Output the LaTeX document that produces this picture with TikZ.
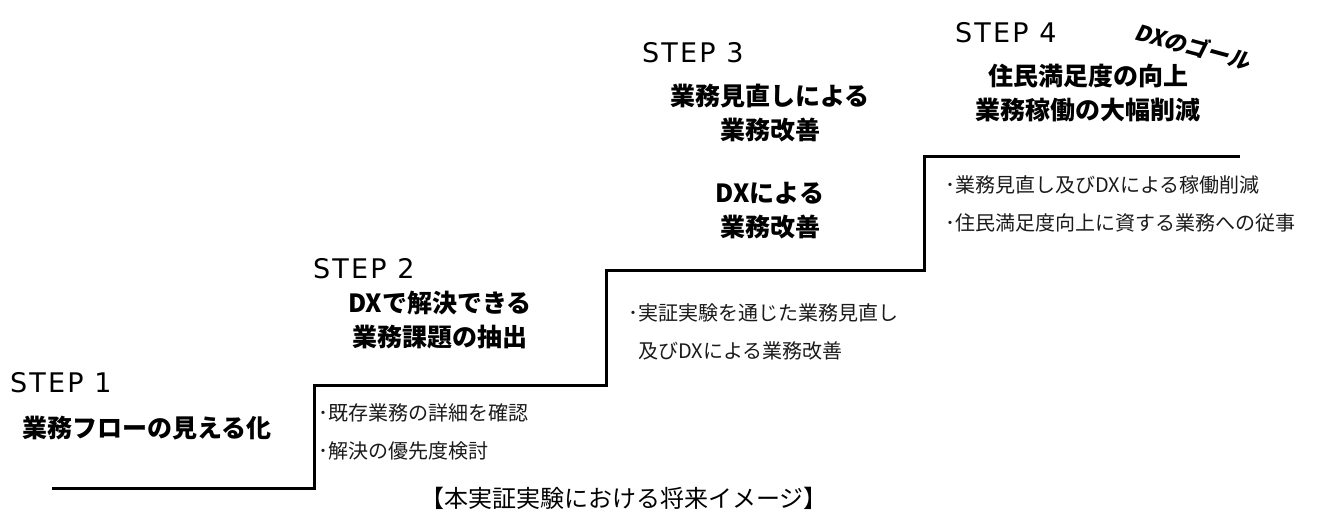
\documentclass[tikz,border=0pt]{standalone}
\usepackage{fontspec}
\usetikzlibrary{positioning}
\newfontfamily\jpfont{Noto Sans CJK JP}
\newfontfamily\jpbold{Noto Sans CJK JP Black}
\newfontfamily\goalfont{Noto Sans CJK JP Black}[FakeSlant=0.2]
\newfontfamily\stepfont{DejaVu Sans}[LetterSpace=8]
\definecolor{dxInk}{HTML}{000000}
\definecolor{dxText}{HTML}{1A1A1A}

\begin{document}
\begin{tikzpicture}[x=1pt, y=-1pt,
    steplabel/.style={anchor=base west, inner sep=0pt, text=dxInk, font=\stepfont\fontsize{27}{30}\selectfont},
    steptitle/.style={align=center, inner sep=0pt, text=dxInk, font=\jpbold\fontsize{25}{34}\selectfont},
    stepnote/.style={anchor=west, align=left, inner sep=0pt, text=dxText, font=\jpfont\fontsize{20}{38}\selectfont}]
  \useasboundingbox (0,0) rectangle (1317,520);
  % Treppe
  \draw[line width=3pt, color=dxInk] (52,488) -- (314,488) -- (314,385) -- (606,385)
    -- (606,270) -- (924,270) -- (924,156) -- (1240,156);
  % STEP-Beschriftungen
  \foreach \n/\x/\y in {1/10/392, 2/313/278, 3/642/62, 4/955/42} {
    \node[steplabel] (step\n) at (\x,\y) {STEP \n};
  }
  % Titel
  \node[steptitle] (title1) at (147,428) {業務フローの見える化};
  \node[steptitle] (title2) at (440,320) {DXで解決できる\\業務課題の抽出};
  \node[steptitle] (title3) at (770,113) {業務見直しによる\\業務改善};
  \node[steptitle] (title3b) at (770,211) {DXによる\\業務改善};
  \node[steptitle] (title4) at (1088,93) {住民満足度の向上\\業務稼働の大幅削減};
  \node[rotate=-15, inner sep=0pt, text=dxInk, font=\goalfont\fontsize{22}{26}\selectfont] (goal) at (1193,46) {DXのゴール};
  % Erlaeuterungen
  \node[stepnote] (note2) at (318,432) {･既存業務の詳細を確認\\･解決の優先度検討};
  \node[stepnote] (note3) at (628,332) {･実証実験を通じた業務見直し\\\hspace{0.5em}及びDXによる業務改善};
  \node[stepnote] (note4) at (945,204) {･業務見直し及びDXによる稼働削減\\･住民満足度向上に資する業務への従事};
  % Unterschrift
  \node[inner sep=0pt, text=dxInk, font=\jpfont\fontsize{24}{26}\selectfont] (caption) at (624,498) {【本実証実験における将来イメージ】};
\end{tikzpicture}
\end{document}
